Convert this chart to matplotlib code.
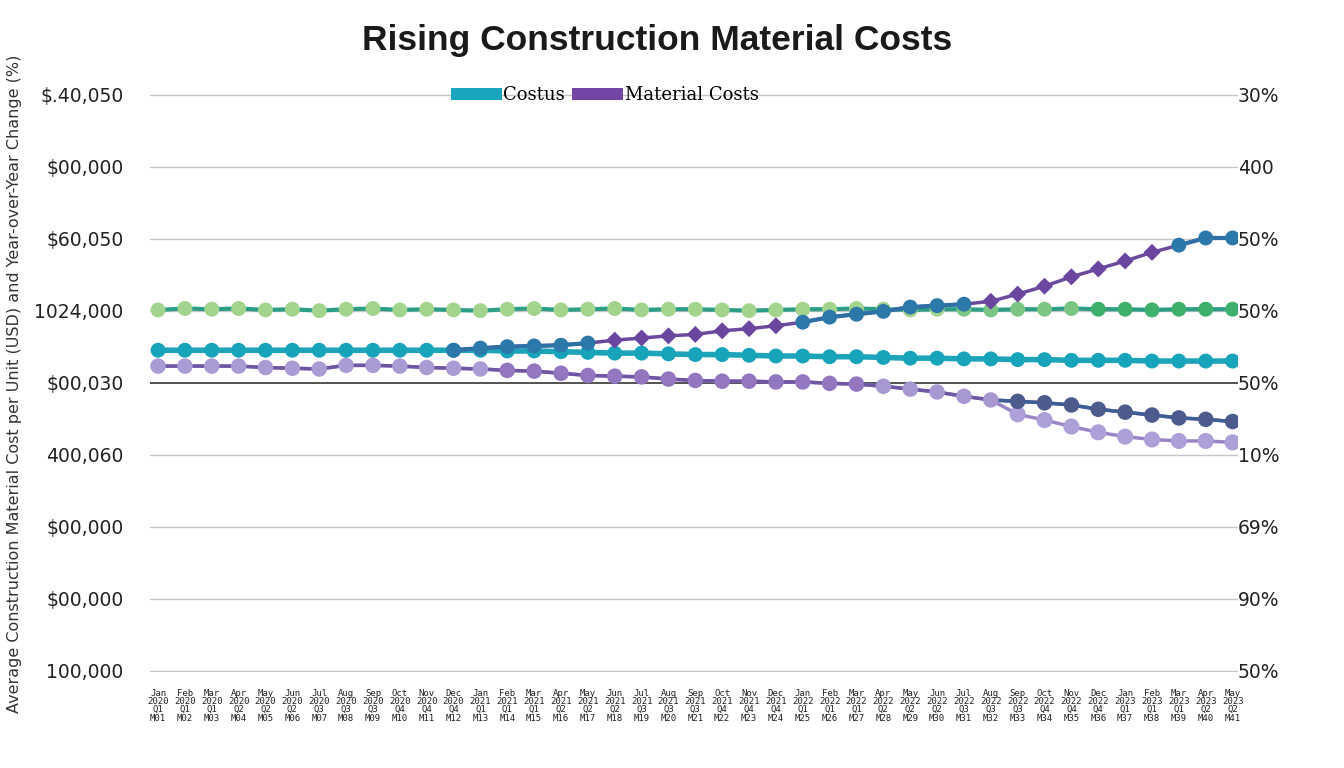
import numpy as np
import matplotlib
matplotlib.use("Agg")
import matplotlib.pyplot as plt
from matplotlib.patches import Patch

# ---------------- data ----------------
months = ["Jan", "Feb", "Mar", "Apr", "May", "Jun", "Jul", "Aug", "Sep", "Oct", "Nov", "Dec"]
n_points = 41
periods = list(range(n_points))
x_labels = [f"{months[i % 12]}\n{2020 + i // 12}\nQ{(i % 12) // 3 + 1}\nM{i + 1:02d}" for i in periods]

# benchmark index (green), thousands USD
benchmark = [601, 603, 602, 603, 601, 602, 600, 602, 603, 601, 602, 601, 600, 602, 603,
             601, 602, 603, 601, 602, 602, 601, 600, 601, 602, 602, 603, 602, 601, 602,
             602, 601, 602, 602, 603, 602, 602, 601, 602, 602, 602]
# "Costus" (teal)
costus = [545, 545, 545, 545, 545, 545, 545, 545, 545, 545, 545, 545, 545, 544, 544,
          543, 542, 541, 541, 540, 539, 539, 538, 537, 537, 536, 536, 535, 534, 534,
          533, 533, 532, 532, 531, 531, 531, 530, 530, 530, 530]
# "Material Costs" rising (starts at period 11)
material = [np.nan] * 11 + [545, 548, 550, 551, 552, 555, 559, 562, 565, 567, 572, 575,
                            579, 584, 591, 595, 599, 605, 607, 609, 613, 623, 634, 647,
                            658, 669, 681, 691, 701, 701]
# declining series: shared part then two branches
decline_upper = [523, 523, 523, 523, 521, 520, 519, 524, 524, 523, 521, 520, 519, 517, 516,
                 513, 510, 509, 508, 505, 503, 502, 502, 501, 501, 499, 498, 495, 491, 487,
                 481, 476, 474, 472, 469, 463, 459, 455, 451, 449, 446]
decline_lower = decline_upper[:32] + [456, 448, 439, 431, 425, 421, 419, 419, 417]

left_tick_values = [900, 800, 700, 600, 500, 400, 300, 200, 100]
left_tick_labels = ["$.40,050", "$00,000", "$60,050", "1024,000", "$00,030",
                    "400,060", "$00,000", "$00,000", "100,000"]
right_tick_labels = ["30%", "400", "50%", "50%", "50%", "10%", "69%", "90%", "50%"]

title = "Rising Construction Material Costs"
legend_labels = ["Costus", "Material Costs"]
y_label = "Average Construction Material Cost per Unit (USD) and Year-over-Year Change (%)"

# ---------------- figure ----------------
fig = plt.figure(figsize=(13.44, 7.68), dpi=100)
ax = fig.add_axes([0.1116, 0.1250, 0.8095, 0.7526])
x = np.array(periods, dtype=float)

for v in left_tick_values:
    ax.axhline(v, color="#444444" if v == 500 else "#c6c6c6",
               lw=1.3 if v == 500 else 1.0, zorder=0)

MS = 115

# green benchmark
ax.plot(x, benchmark, color="#2c9e86", lw=3, zorder=2)
g_cols = ["#a3d48e"] * 30 + ["#7cc683"] * 5 + ["#3fb06b"] * 6
ax.scatter(x, benchmark, s=MS, c=g_cols, zorder=3, edgecolors="none")

# declining branches
ax.plot(x, decline_lower, color="#9a86c6", lw=2.5, zorder=2)
ax.scatter(x[32:], decline_lower[32:], s=MS + 20, c="#ad9fd8", zorder=3, edgecolors="none")
ax.plot(x, decline_upper, color="#6f55a3", lw=2.5, zorder=2)
ax.plot(x[31:], decline_upper[31:], color="#3b5f96", lw=2.5, zorder=2)
u_cols = ["#a99bd4"] * 13 + ["#9276bf"] * 14 + ["#a898d2"] * 5 + ["#4d5a8c"] * 9
ax.scatter(x, decline_upper, s=MS + 10, c=u_cols, zorder=3, edgecolors="none")

# teal Costus
ax.plot(x, costus, color="#1ea4b8", lw=4, zorder=4)
ax.scatter(x, costus, s=MS, c="#17a3ba", zorder=5, edgecolors="none")

# rising material costs
mat = np.array(material, dtype=float)
ax.plot(x, mat, color="#6a4a9e", lw=2.5, zorder=6)
for a, b in [(11, 17), (24, 31), (38, 41)]:
    ax.plot(x[a:b], mat[a:b], color="#2f6fa6", lw=3, zorder=6)
m_cols = []
m_mark = []
for i in range(n_points):
    if (11 <= i < 17) or (24 <= i < 31) or i >= 38:
        m_cols.append("#2d78aa"); m_mark.append("o")
    else:
        m_cols.append("#6b46a0"); m_mark.append("D")
for i in range(11, n_points):
    ax.scatter(x[i], mat[i], s=MS if m_mark[i] == "o" else 75, c=m_cols[i],
               marker=m_mark[i], zorder=7, edgecolors="none")

ax.set_xlim(-0.3, 40.2)
ax.set_ylim(98, 901)
for s in ax.spines.values():
    s.set_visible(False)

ax.set_yticks(left_tick_values)
ax.set_yticklabels(left_tick_labels, fontsize=13.5, color="#222222")
ax.tick_params(axis="y", length=0, pad=19)

ax.set_xticks(x)
ax.set_xticklabels(x_labels, fontsize=6.5, family="DejaVu Sans Mono",
                   linespacing=0.9, color="#222222")
ax.tick_params(axis="x", length=0, pad=12)

ax2 = ax.twinx()
ax2.set_ylim(98, 901)
ax2.set_yticks(left_tick_values)
ax2.set_yticklabels(right_tick_labels, fontsize=13.5, color="#222222")
ax2.tick_params(axis="y", length=0, pad=0)
for s in ax2.spines.values():
    s.set_visible(False)

fig.text(0.489, 0.947, title, ha="center", va="center", fontsize=25.5,
         fontweight="bold", family="Liberation Sans", color="#1a1a1a")
fig.text(0.011, 0.5, y_label, rotation=90, ha="center", va="center",
         fontsize=11.5, color="#333333")

handles = [Patch(facecolor="#1aa6be", edgecolor="none"),
           Patch(facecolor="#7346a6", edgecolor="none")]
ax.legend(handles, legend_labels, loc="center", bbox_to_anchor=(0.450, 0.876),
          bbox_transform=fig.transFigure, ncol=2, frameon=False,
          prop={"family": "DejaVu Serif", "size": 13},
          handlelength=2.8, handleheight=0.65, handletextpad=0.1, columnspacing=0.4)

fig.savefig("out.png", dpi=100, facecolor="white")
